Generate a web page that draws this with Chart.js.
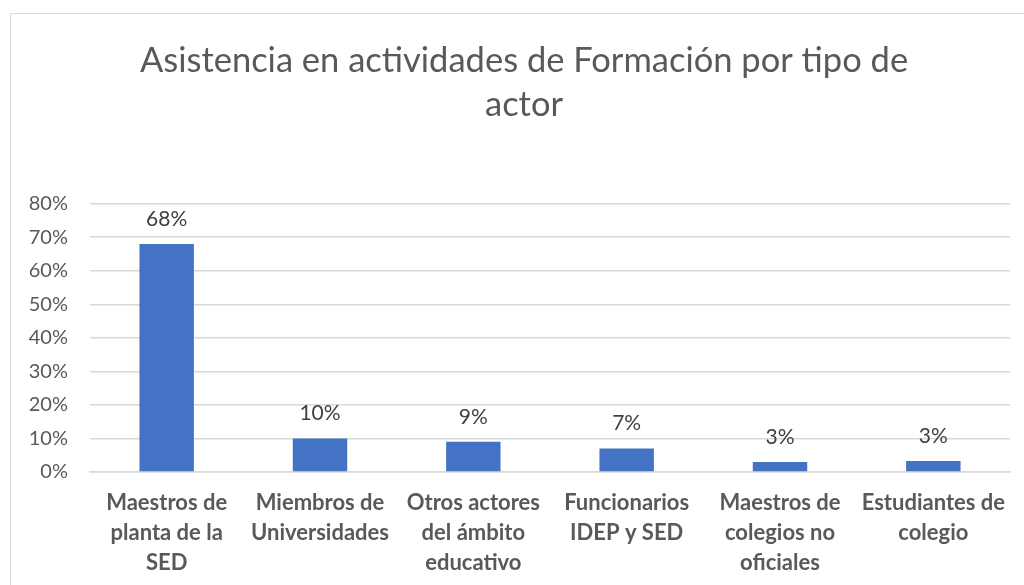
<!DOCTYPE html>
<html>
<head>
<meta charset="utf-8">
<script src="https://cdn.jsdelivr.net/npm/chart.js@4.4.1/dist/chart.umd.min.js"></script>
<style>
  html, body { margin: 0; padding: 0; background: #fff; overflow: hidden; width: 1024px; height: 585px; }
  #frame { position: absolute; left: 10px; top: 13px; width: 1030px; height: 600px; border: 1px solid #d9d9d9; box-sizing: border-box; }
  #wrap { position: absolute; left: 0; top: 0; width: 1048px; height: 592px; }
</style>
</head>
<body>
<div id="frame"></div>
<div id="wrap"><canvas id="chart"></canvas></div>
<script>
// values
const titleLines = ["Asistencia en actividades de Formación por tipo de", "actor"]
const categories = [
  ["Maestros de", "planta de la", "SED"],
  ["Miembros de", "Universidades"],
  ["Otros actores", "del ámbito", "educativo"],
  ["Funcionarios", "IDEP y SED"],
  ["Maestros de", "colegios no", "oficiales"],
  ["Estudiantes de", "colegio"],
]
const shares = [0.68, 0.10, 0.09, 0.07, 0.03, 0.033]

const FONT = "Lato, 'Open Sans', sans-serif"

// Chart.js has no built-in data labels, so draw the percentages above each bar
const barLabels = {
  id: "barLabels",
  afterDatasetsDraw(chart) {
    const ctx = chart.ctx
    const meta = chart.getDatasetMeta(0)
    ctx.save()
    ctx.font = `21px ${FONT}`
    ctx.fillStyle = "#404040"
    ctx.textAlign = "center"
    ctx.textBaseline = "middle"
    meta.data.forEach((bar, i) => {
      ctx.fillText(Math.round(shares[i] * 100) + "%", bar.x, bar.y - 25)
    })
    ctx.restore()
  },
}

new Chart(document.getElementById("chart"), {
  type: "bar",
  data: {
    labels: categories,
    datasets: [{
      data: shares,
      backgroundColor: "#4472C4",
      categoryPercentage: 1,
      barPercentage: 0.355,
    }],
  },
  plugins: [barLabels],
  options: {
    responsive: true,
    maintainAspectRatio: false,
    animation: false,
    layout: { padding: { left: 0, right: 0, top: 0, bottom: 6 } },
    plugins: {
      legend: { display: false },
      tooltip: { enabled: false },
      title: {
        display: true,
        text: titleLines,
        color: "#595959",
        font: { family: FONT, size: 34.5, weight: "normal", lineHeight: 1.3 },
        padding: { top: 38, bottom: 76 },
      },
    },
    scales: {
      x: {
        grid: { display: false },
        border: { color: "#d9d9d9", width: 1.5 },
        ticks: {
          color: "#595959",
          font: { family: FONT, size: 22, weight: "bold", lineHeight: 1.364 },
          padding: 8,
          maxRotation: 0,
          autoSkip: false,
        },
      },
      y: {
        min: 0,
        max: 0.8,
        afterFit: (axis) => { axis.width = 90 },
        grid: { color: "#d9d9d9", lineWidth: 1.5, drawTicks: false },
        border: { display: false },
        ticks: {
          stepSize: 0.1,
          color: "#595959",
          padding: 22,
          font: { family: FONT, size: 20 },
          callback: (v) => Math.round(v * 100) + "%",
        },
      },
      // empty right-hand strip: the original frame runs past the page edge,
      // so the plot stops short of it and the title centres right of the page middle
      yRight: {
        position: "right",
        min: 0,
        max: 0.8,
        afterFit: (axis) => { axis.width = 38 },
        grid: { display: false },
        border: { display: false },
        ticks: { display: false },
      },
    },
  },
})
</script>
</body>
</html>
